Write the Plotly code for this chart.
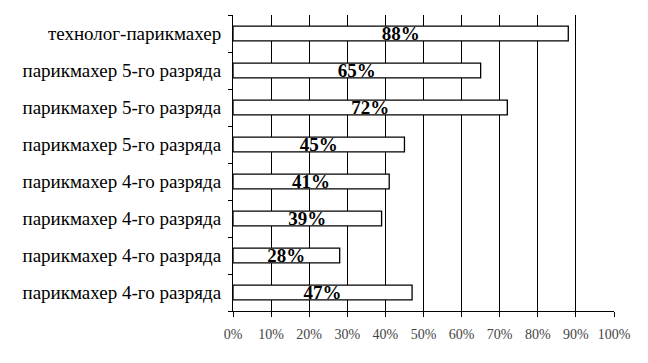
import plotly.graph_objects as go

categories = [
    "технолог-парикмахер",
    "парикмахер 5-го разряда",
    "парикмахер 5-го разряда",
    "парикмахер 5-го разряда",
    "парикмахер 4-го разряда",
    "парикмахер 4-го разряда",
    "парикмахер 4-го разряда",
    "парикмахер 4-го разряда",
]
values = [88, 65, 72, 45, 41, 39, 28, 47]
x_ticks = [0, 10, 20, 30, 40, 50, 60, 70, 80, 90, 100]
x_tick_labels = [f"{v}%" for v in x_ticks]

positions = list(range(len(categories)))

fig = go.Figure(go.Bar(
    x=values,
    y=positions,
    orientation="h",
    width=0.4,
    marker=dict(color="white", line=dict(color="black", width=1.3)),
    text=[f"{v}%" for v in values],
    textposition="inside",
    insidetextanchor="middle",
    textangle=0,
    textfont=dict(family="Liberation Serif", size=19, color="black", weight="bold"),
    constraintext="none",
    cliponaxis=False,
))

fig.update_layout(
    width=648, height=363,
    margin=dict(l=225, r=42, t=7, b=60),
    paper_bgcolor="white", plot_bgcolor="white",
    showlegend=False,
    font=dict(family="Liberation Serif", color="black"),
)
fig.update_xaxes(
    range=[0, 100],
    tickvals=x_ticks, ticktext=x_tick_labels,
    showgrid=True, gridcolor="black", gridwidth=1,
    showline=True, linecolor="black", linewidth=1,
    ticks="outside", ticklen=5, tickcolor="black",
    tickfont=dict(family="Liberation Serif", size=14, color="#444"),
    ticklabelstandoff=5,
    zeroline=False, automargin=False,
)
fig.update_yaxes(
    range=[len(categories) - 0.5, -0.5],
    tickvals=positions, ticktext=categories,
    ticks="", ticklen=0,
    minor=dict(tickvals=[p - 0.5 for p in positions] + [len(categories) - 0.5],
               ticks="outside", ticklen=4, tickcolor="black", showgrid=False),
    showgrid=False,
    showline=True, linecolor="black", linewidth=1,
    tickfont=dict(family="Liberation Serif", size=19, color="black"),
    ticklabelstandoff=7,
    zeroline=False, automargin=False,
)

fig.write_html("out.html")
